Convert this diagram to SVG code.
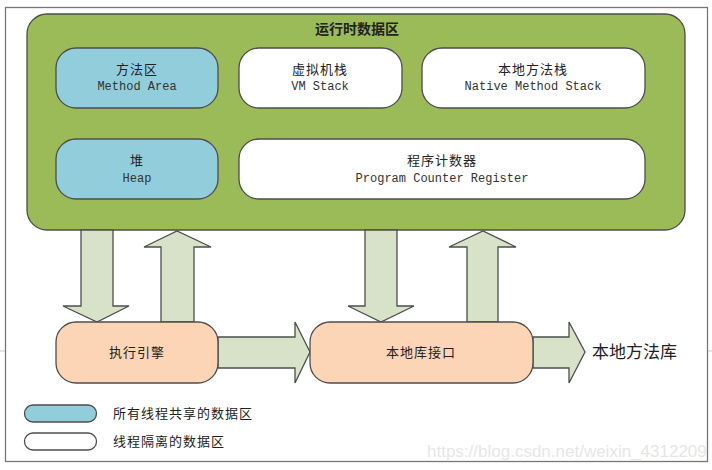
<svg xmlns="http://www.w3.org/2000/svg" width="712" height="470" viewBox="0 0 712 470">
<style>
.cn{font-family:"Noto Sans CJK SC","Liberation Sans",sans-serif;fill:#222;}
.sp{letter-spacing:1px;}
.en{font-family:"Liberation Mono","DejaVu Sans Mono",monospace;fill:#333;font-size:12px;}
.box{stroke:#4d4d4d;stroke-width:1.3;}
.shared{fill:#92cddc;}
.private{fill:#ffffff;}
.engine{fill:#fbd5b5;}
.arrow{fill:#d8e2c8;stroke:#4d4d4d;stroke-width:1.3;stroke-linejoin:miter;}
</style>
<rect width="712" height="470" fill="#ffffff"/>
<line x1="0" y1="351" x2="5" y2="351" stroke="#cccccc" stroke-width="1"/>
<line x1="708" y1="351" x2="712" y2="351" stroke="#cccccc" stroke-width="1"/>
<rect x="5.5" y="7.5" width="702" height="454" fill="#ffffff" stroke="#777777" stroke-width="1.3"/>

<g id="runtime-data-area">
<rect x="27" y="14" width="658" height="216" rx="20" fill="#9bbb59" class="box"/>
<text x="357" y="34" text-anchor="middle" class="cn" font-size="14" font-weight="bold">运行时数据区</text>
</g>

<g id="method-area">
<rect x="56" y="48" width="162" height="60" rx="20" class="box shared"/>
<text x="137" y="74" text-anchor="middle" class="cn sp" font-size="13">方法区</text>
<text x="137" y="90" text-anchor="middle" class="en">Method Area</text>
</g>
<g id="vm-stack">
<rect x="239" y="48" width="163" height="60" rx="20" class="box private"/>
<text x="320" y="74" text-anchor="middle" class="cn sp" font-size="13">虚拟机栈</text>
<text x="320" y="90" text-anchor="middle" class="en">VM Stack</text>
</g>
<g id="native-method-stack">
<rect x="422" y="48" width="223" height="60" rx="20" class="box private"/>
<text x="533" y="74" text-anchor="middle" class="cn sp" font-size="13">本地方法栈</text>
<text x="533" y="90" text-anchor="middle" class="en">Native Method Stack</text>
</g>
<g id="heap">
<rect x="56" y="139" width="162" height="60" rx="20" class="box shared"/>
<text x="137" y="165" text-anchor="middle" class="cn sp" font-size="13">堆</text>
<text x="137" y="182" text-anchor="middle" class="en">Heap</text>
</g>
<g id="program-counter">
<rect x="239" y="139" width="406" height="60" rx="20" class="box private"/>
<text x="442" y="165" text-anchor="middle" class="cn sp" font-size="13">程序计数器</text>
<text x="442" y="182" text-anchor="middle" class="en">Program Counter Register</text>
</g>

<g id="connectors">
<polygon class="arrow" points="81,230 113,230 113,306 129,306 97,322 63,306 81,306"/>
<polygon class="arrow" points="161,322 161,247 144,247 177,231 211,247 194,247 194,322"/>
<polygon class="arrow" points="365,230 397,230 397,306 414,306 381,322 348,306 365,306"/>
<polygon class="arrow" points="467,322 467,247 449,247 483,231 516,247 498,247 498,322"/>
<polygon class="arrow" points="218,337 295,337 295,322 310,352 295,383 295,368 218,368"/>
<polygon class="arrow" points="533,337 569,337 569,322 585,352 569,383 569,368 533,368"/>
</g>

<g id="execution-engine">
<rect x="56" y="322" width="162" height="61" rx="20" class="box engine"/>
<text x="137" y="357" text-anchor="middle" class="cn sp" font-size="13">执行引擎</text>
</g>
<g id="native-interface">
<rect x="310" y="322" width="223" height="61" rx="20" class="box engine"/>
<text x="421" y="357" text-anchor="middle" class="cn sp" font-size="13">本地库接口</text>
</g>
<g id="native-library">
<text x="592" y="358" class="cn" font-size="17">本地方法库</text>
</g>

<g id="legend">
<rect x="24.5" y="405" width="72" height="17" rx="8.5" class="box shared"/>
<text x="113" y="418" class="cn sp" font-size="13">所有线程共享的数据区</text>
<rect x="24.5" y="433" width="72" height="17" rx="8.5" class="box private"/>
<text x="113" y="446" class="cn sp" font-size="13">线程隔离的数据区</text>
</g>

<text x="427" y="457" font-family="Liberation Sans,sans-serif" font-size="17" fill="#e6e6e6">https://blog.csdn.net/weixin_4312209</text>
</svg>
